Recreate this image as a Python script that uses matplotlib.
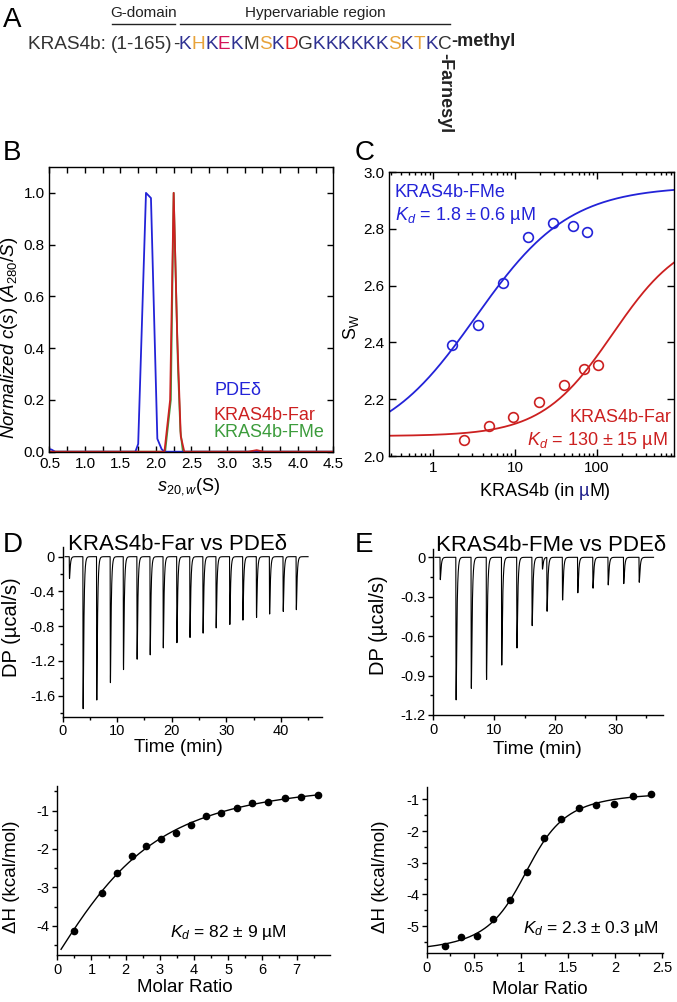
import numpy as np
import matplotlib
matplotlib.use("Agg")
import matplotlib.pyplot as plt
from matplotlib import font_manager
from matplotlib.ticker import MultipleLocator, FormatStrFormatter, FuncFormatter, LogLocator, NullFormatter

# -------------------------
# Data
# -------------------------

# Panel A: hypervariable region sequence
seq_prefix = "KRAS4b: "
seq_gdomain = "(1-165)"
seq_letters = list("KHKEKMSKDGKKKKKKSKTKC")
residue_colors = {'K': '#2e3192', 'H': '#e8a33a', 'E': '#d4145a', 'M': '#333333',
                  'S': '#e8a33a', 'D': '#e31e24', 'G': '#333333', 'T': '#e8a33a',
                  'C': '#333333'}

# Panel B: c(s) distributions
pde_s = [0.50, 0.53, 0.58, 1.71, 1.75, 1.86, 1.93, 2.02, 2.08, 2.12, 4.50]
pde_c = [0.010, 0.008, 0.0, 0.0, 0.03, 1.0, 0.98, 0.05, 0.01, 0.0, 0.0]
far_s = [0.50, 2.12, 2.20, 2.25, 2.30, 2.35, 2.40, 3.30, 3.42, 3.52, 4.50]
far_c = [0.0, 0.0, 0.20, 1.0, 0.45, 0.06, 0.0, 0.0, 0.006, 0.0, 0.0]
fme_s = [0.50, 2.13, 2.21, 2.25, 2.31, 2.345, 2.38, 4.50]
fme_c = [0.0, 0.0, 0.20, 1.0, 0.33, 0.08, 0.0, 0.0]

# Panel C: weight-average sedimentation coefficient vs KRAS4b concentration
fme_conc = [1.70, 3.50, 7.02, 14.2, 29.0, 51.3, 76.1]
fme_sw = [2.39, 2.46, 2.61, 2.77, 2.82, 2.81, 2.79]
far_conc = [2.34, 4.73, 9.46, 19.5, 39.1, 69.3, 102.8]
far_sw = [2.056, 2.105, 2.138, 2.191, 2.25, 2.305, 2.32]
# fitted isotherm parameters (baseline, plateau, midpoint, Hill slope)
fme_fit = (2.03, 2.95, 3.3, 0.76)
far_fit = (2.07, 2.79, 155.0, 1.0)

# Panel D: ITC KRAS4b-Far vs PDEd
d_inj_time = [1.2, 3.7, 6.2, 8.7, 11.1, 13.6, 16.0, 18.4, 20.9, 23.3, 25.7,
              28.1, 30.6, 33.0, 35.5, 37.9, 40.4, 42.8]
d_inj_peak = [-0.25, -1.75, -1.65, -1.45, -1.30, -1.18, -1.13, -1.05, -0.99,
              -0.93, -0.88, -0.82, -0.78, -0.73, -0.70, -0.66, -0.63, -0.61]
d_ratio = [0.49, 1.32, 1.74, 2.18, 2.60, 3.04, 3.47, 3.91, 4.36, 4.80, 5.25,
           5.71, 6.18, 6.67, 7.13, 7.62]
d_heat = [-4.14, -3.155, -2.62, -2.19, -1.91, -1.74, -1.59, -1.37, -1.15, -1.06,
          -0.92, -0.80, -0.77, -0.68, -0.64, -0.59]
d_curve_start = (0.11, -4.57)

# Panel E: ITC KRAS4b-FMe vs PDEd
e_inj_time = [1.1, 3.7, 6.2, 8.7, 11.2, 13.7, 16.2, 18.65, 21.2, 23.7, 26.2,
              28.7, 31.25, 33.8]
e_inj_peak = [-0.17, -1.085, -0.997, -0.93, -0.82, -0.69, -0.52, -0.41, -0.325,
              -0.27, -0.235, -0.21, -0.20, -0.19]
e_glitch_time = [17.9]
e_glitch_peak = [-0.09]
e_ratio = [0.194, 0.361, 0.531, 0.707, 0.884, 1.065, 1.245, 1.429, 1.613, 1.797,
           1.988, 2.187, 2.381]
e_heat = [-5.63, -5.36, -5.31, -4.79, -4.17, -3.29, -2.23, -1.62, -1.27, -1.18,
          -1.15, -0.90, -0.84]

BLUE = '#2323d8'
RED = '#cc2020'
GREEN = '#3c9c3c'

# -------------------------
# Helpers
# -------------------------
W, H = 677, 1002

names = {f.name for f in font_manager.fontManager.ttflist}
NARROW = 'Liberation Sans Narrow' in names

plt.rcParams['font.family'] = ['Liberation Sans', 'DejaVu Sans']
plt.rcParams['mathtext.fontset'] = 'custom'
plt.rcParams['mathtext.rm'] = 'Liberation Sans'
plt.rcParams['mathtext.it'] = 'Liberation Sans:italic'
plt.rcParams['mathtext.bf'] = 'Liberation Sans:bold'
plt.rcParams['axes.unicode_minus'] = False
plt.rcParams['axes.linewidth'] = 1.0


def box(left, top, right, bottom):
    return [left / W, 1 - bottom / H, (right - left) / W, (bottom - top) / H]


def ftext(x, y, s, **kw):
    return fig.text(x / W, 1 - y / H, s, **kw)


def hill(x, s0, smax, k, n):
    x = np.asarray(x, float)
    return s0 + (smax - s0) * x**n / (x**n + k**n)


def thermogram(t, times, peaks, rise=0.03, tau=0.14):
    tt = np.linspace(0, 2, 4001)
    norm = ((1 - np.exp(-tt / rise)) * np.exp(-tt / tau)).max()
    dp = np.zeros_like(t)
    for t0, p in zip(times, peaks):
        dt = t - t0
        m = dt > 0
        dp[m] += p * (1 - np.exp(-dt[m] / rise)) * np.exp(-dt[m] / tau) / norm
    return dp


def wiseman(x, n, r):
    xr = np.asarray(x, float) / n
    return 0.5 + (1 - xr - r) / (2 * np.sqrt((1 + xr + r)**2 - 4 * xr))


def fit_itc(x, y):
    x = np.asarray(x, float)
    y = np.asarray(y, float)
    best = None
    for n in np.linspace(0.3, 3.0, 109):
        for r in np.logspace(-3, 1.8, 130):
            f = wiseman(x, n, r)
            A = np.column_stack([np.ones_like(f), f])
            coef, *_ = np.linalg.lstsq(A, y, rcond=None)
            sse = ((A @ coef - y)**2).sum()
            if best is None or sse < best[0]:
                best = (sse, n, r, coef)
    _, n, r, coef = best
    return lambda xx: coef[0] + coef[1] * wiseman(xx, n, r)


def itc_style(ax):
    for s in ('top', 'right'):
        ax.spines[s].set_visible(False)
    ax.tick_params(which='both', direction='out', labelsize=10.5, width=1, pad=2)
    ax.tick_params(which='major', length=3.5)
    ax.tick_params(which='minor', length=2.2)
    ax.set_facecolor('none')


def box_style(ax):
    ax.tick_params(which='both', direction='in', top=True, right=True,
                   labelsize=11, width=1)
    ax.set_facecolor('none')


gfmt = FuncFormatter(lambda v, p: '%g' % round(v, 6))

fig = plt.figure(figsize=(W / 100, H / 100), dpi=100)

# -------------------------
# Panel B
# -------------------------
axb = fig.add_axes(box(49.5, 167, 333.3, 451.7))
axb.plot(fme_s, fme_c, color=GREEN, lw=1.3)
axb.plot(pde_s, pde_c, color=BLUE, lw=1.3)
axb.plot(far_s, far_c, color=RED, lw=1.3)
axb.set_xlim(0.5, 4.5)
axb.set_ylim(0, 1.1)
axb.xaxis.set_major_locator(MultipleLocator(0.5))
axb.xaxis.set_minor_locator(MultipleLocator(0.25))
axb.yaxis.set_major_locator(MultipleLocator(0.2))
axb.xaxis.set_major_formatter(FormatStrFormatter('%.1f'))
axb.yaxis.set_major_formatter(FormatStrFormatter('%.1f'))
box_style(axb)
axb.tick_params(which='both', length=4)

ftext(215, 395, 'PDEδ', color=BLUE, fontsize=13, va='baseline')
ftext(213, 420, 'KRAS4b-Far', color=RED, fontsize=13, va='baseline')
ftext(213, 437, 'KRAS4b-FMe', color=GREEN, fontsize=13, va='baseline')
ftext(189, 487, r'$s_{20,w}$(S)', fontsize=13, ha='center', va='center')
ftext(10, 338, r'$Normalized\ c(s)\ (A_{280}/S)$', fontsize=13.5,
      rotation=90, ha='center', va='center')

# -------------------------
# Panel C
# -------------------------
axc = fig.add_axes(box(389.3, 172, 674, 456))
xc = np.logspace(np.log10(0.29), np.log10(870), 300)
axc.plot(xc, hill(xc, *fme_fit), color=BLUE, lw=1.3)
axc.plot(xc, hill(xc, *far_fit), color=RED, lw=1.3)
axc.plot(fme_conc, fme_sw, 'o', mfc='none', mec=BLUE, ms=7, mew=1.2)
axc.plot(far_conc, far_sw, 'o', mfc='none', mec=RED, ms=7, mew=1.2)
axc.set_xscale('log')
axc.set_xlim(0.29, 870)
axc.set_ylim(2.0, 3.0)
axc.yaxis.set_major_locator(MultipleLocator(0.2))
axc.yaxis.set_major_formatter(FormatStrFormatter('%.1f'))
axc.xaxis.set_major_locator(LogLocator(base=10, numticks=10))
axc.xaxis.set_minor_locator(LogLocator(base=10, subs=np.arange(2, 10), numticks=10))
axc.xaxis.set_minor_formatter(NullFormatter())
axc.xaxis.set_major_formatter(FuncFormatter(lambda v, p: '%g' % v))
box_style(axc)
axc.tick_params(which='major', length=5)
axc.tick_params(which='minor', length=2.5)

ftext(395, 197, 'KRAS4b-FMe', color=BLUE, fontsize=13, va='baseline')
ftext(395, 220, r'$K_d$ = 1.8 ± 0.6 µM', color=BLUE, fontsize=13, va='baseline')
ftext(671, 422, 'KRAS4b-Far', color=RED, fontsize=13, ha='right', va='baseline')
ftext(668, 445, r'$K_d$ = 130 ± 15 µM', color=RED, fontsize=13, ha='right', va='baseline')
ftext(351, 327, r'S$_\mathregular{W}$', fontsize=13, rotation=90, ha='center', va='center')

# -------------------------
# Panel D (ITC, KRAS4b-Far)
# -------------------------
axd = fig.add_axes(box(62.7, 547.3, 321.7, 716.7))
td = np.arange(0.44, 45.0, 0.002)
axd.plot(td, thermogram(td, d_inj_time, d_inj_peak), color='black', lw=0.8)
axd.set_xlim(0, 47.5)
axd.set_ylim(-1.842, 0.108)
axd.xaxis.set_major_locator(MultipleLocator(10))
axd.xaxis.set_minor_locator(MultipleLocator(5))
axd.yaxis.set_major_locator(MultipleLocator(0.4))
axd.yaxis.set_minor_locator(MultipleLocator(0.2))
axd.xaxis.set_major_formatter(gfmt)
axd.yaxis.set_major_formatter(gfmt)
itc_style(axd)

axd2 = fig.add_axes(box(57.3, 786, 330, 955))
fd = fit_itc(list(d_ratio) + [d_curve_start[0]], list(d_heat) + [d_curve_start[1]])
xd = np.linspace(d_curve_start[0], 7.62, 300)
axd2.plot(xd, fd(xd), color='black', lw=1.0)
axd2.plot(d_ratio, d_heat, 'o', color='black', ms=4.5)
axd2.set_xlim(0, 7.98)
axd2.set_ylim(-4.76, -0.36)
axd2.xaxis.set_major_locator(MultipleLocator(1))
axd2.xaxis.set_minor_locator(MultipleLocator(0.5))
axd2.yaxis.set_major_locator(MultipleLocator(1))
axd2.yaxis.set_minor_locator(MultipleLocator(0.5))
axd2.xaxis.set_major_formatter(gfmt)
axd2.yaxis.set_major_formatter(gfmt)
itc_style(axd2)

ftext(177.5, 550, 'KRAS4b-Far vs PDEδ', fontsize=16, ha='center', va='baseline')
ftext(12, 627, 'DP (µcal/s)', fontsize=14.5, rotation=90, ha='center', va='center')
ftext(178, 747, 'Time (min)', fontsize=13.5, ha='center', va='center')
ftext(170, 937, r'$K_d$ = 82 ± 9 µM', fontsize=12.5, va='baseline')
ftext(12, 877, 'ΔH (kcal/mol)', fontsize=13.5, rotation=90, ha='center', va='center')
ftext(185, 987, 'Molar Ratio', fontsize=13.5, ha='center', va='center')

# -------------------------
# Panel E (ITC, KRAS4b-FMe)
# -------------------------
axe = fig.add_axes(box(433.3, 549.3, 663.3, 715))
te = np.arange(0.28, 36.2, 0.002)
trace_e = thermogram(te, e_inj_time, e_inj_peak) + thermogram(te, e_glitch_time, e_glitch_peak)
axe.plot(te, trace_e, color='black', lw=0.8)
axe.set_xlim(0, 37.8)
axe.set_ylim(-1.2, 0.061)
axe.xaxis.set_major_locator(MultipleLocator(10))
axe.xaxis.set_minor_locator(MultipleLocator(5))
axe.yaxis.set_major_locator(MultipleLocator(0.3))
axe.yaxis.set_minor_locator(MultipleLocator(0.15))
axe.xaxis.set_major_formatter(gfmt)
axe.yaxis.set_major_formatter(gfmt)
itc_style(axe)

axe2 = fig.add_axes(box(426.7, 786.7, 663.3, 953.3))
fe = fit_itc(e_ratio, e_heat)
xe = np.linspace(0.02, 2.39, 300)
axe2.plot(xe, fe(xe), color='black', lw=1.0)
axe2.plot(e_ratio, e_heat, 'o', color='black', ms=4.5)
axe2.set_xlim(0, 2.51)
axe2.set_ylim(-5.86, -0.6)
axe2.xaxis.set_major_locator(MultipleLocator(0.5))
axe2.xaxis.set_minor_locator(MultipleLocator(0.25))
axe2.yaxis.set_major_locator(MultipleLocator(1))
axe2.yaxis.set_minor_locator(MultipleLocator(0.5))
axe2.xaxis.set_major_formatter(gfmt)
axe2.yaxis.set_major_formatter(gfmt)
itc_style(axe2)

ftext(551, 551, 'KRAS4b-FMe vs PDEδ', fontsize=16, ha='center', va='baseline')
ftext(379, 625, 'DP (µcal/s)', fontsize=14.5, rotation=90, ha='center', va='center')
ftext(537, 750, 'Time (min)', fontsize=13.5, ha='center', va='center')
ftext(523, 933, r'$K_d$ = 2.3 ± 0.3 µM', fontsize=12.5, va='baseline')
ftext(381, 877, 'ΔH (kcal/mol)', fontsize=13.5, rotation=90, ha='center', va='center')
ftext(540, 990, 'Molar Ratio', fontsize=13.5, ha='center', va='center')

# -------------------------
# Panel letters
# -------------------------
for letter, x, y in [('A', 3, 27), ('B', 3, 160), ('C', 355, 160),
                     ('D', 3, 552), ('E', 355, 552)]:
    ftext(x, y, letter, fontsize=20, va='baseline')

# -------------------------
# Text overlay (panel A and the C axis label), drawn last
# -------------------------
axa = fig.add_axes([0, 0, 1, 1])
axa.set_xlim(0, W)
axa.set_ylim(H, 0)
axa.axis('off')

# C x label with the coloured micro sign
t_x1 = axa.text(480, 496, 'KRAS4b (in ', fontsize=13, va='baseline')
t_x2 = axa.annotate('µ', xy=(1, 0), xycoords=t_x1, va='bottom', fontsize=13,
                    color='#1f1f8a')
axa.annotate('M)', xy=(1, 0), xycoords=t_x2, va='bottom', fontsize=13)

seq_font = 'Liberation Sans Narrow' if NARROW else 'Liberation Sans'
seq_size = 16.5 if NARROW else 13.7
lab_size = 13.3 if NARROW else 11

t_pre = axa.text(28, 49, seq_prefix, fontsize=seq_size, family=seq_font,
                 color='#333333', va='baseline')
t_g = axa.annotate(seq_gdomain, xy=(1, 0), xycoords=t_pre, va='bottom',
                   fontsize=seq_size, family=seq_font, color='#333333')
t_prev = axa.annotate('-', xy=(1, 0), xycoords=t_g, va='bottom',
                      fontsize=seq_size, family=seq_font, color='#333333')
seq_texts = []
for ch in seq_letters:
    t_prev = axa.annotate(ch, xy=(1, 0), xycoords=t_prev, va='bottom',
                          fontsize=seq_size, family=seq_font,
                          color=residue_colors[ch])
    seq_texts.append(t_prev)
t_c = seq_texts[-1]
axa.annotate('-methyl', xy=(1, 0), xycoords=t_c, va='bottom', fontsize=13,
             fontweight='bold', color='#222222', xytext=(0, 2),
             textcoords='offset points')
axa.annotate('-Farnesyl', xy=(0.5, 0), xycoords=t_c, ha='center', va='top',
             rotation=-90, fontsize=13, fontweight='bold', color='#222222')

fig.canvas.draw()
inv = axa.transData.inverted()


def span(t):
    bb = t.get_window_extent()
    (x0, _), (x1, _) = inv.transform([[bb.x0, bb.y0], [bb.x1, bb.y0]])
    return x0, x1


g0, g1 = span(t_g)
h0, _ = span(seq_texts[0])
_, h1 = span(t_c)
axa.plot([g0 + 1, g1 + 2], [24, 24], color='#222222', lw=1.0)
axa.plot([h0 + 1, h1 - 2], [24, 24], color='#222222', lw=1.0)
axa.text((g0 + g1) / 2 + 2, 17, 'G-domain', fontsize=lab_size, family=seq_font,
         ha='center', va='baseline', color='#222222')
axa.text((h0 + h1) / 2, 17, 'Hypervariable region', fontsize=lab_size,
         family=seq_font, ha='center', va='baseline', color='#222222')

fig.savefig('out.png', dpi=100)
